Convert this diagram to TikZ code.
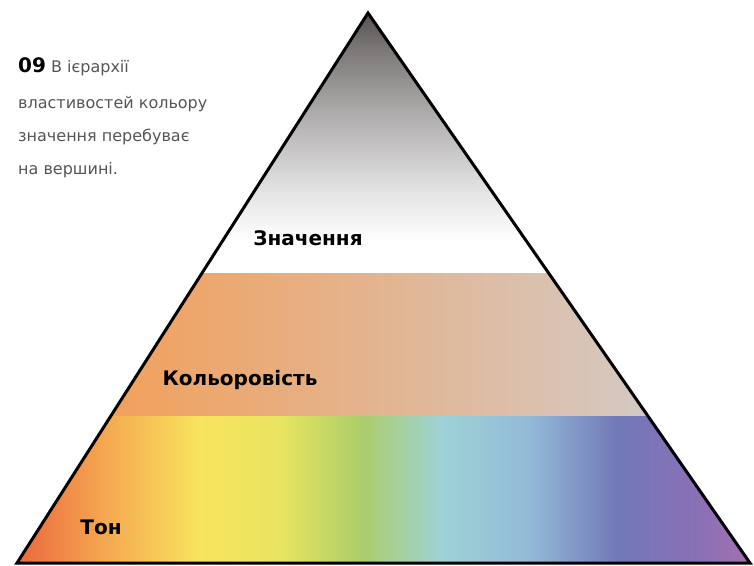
\documentclass[tikz,border=0pt]{standalone}
\usepackage{fontspec}
\setmainfont{DejaVu Sans}
\usetikzlibrary{positioning}

\definecolor{capgray}{HTML}{555555}
\definecolor{midleft}{HTML}{F2A05C}
\definecolor{midright}{HTML}{D3CAC6}
\definecolor{apexgray}{HTML}{484242}

% value band, top dark to white
\pgfdeclareverticalshading{valueshade}{100bp}{%
  color(0bp)=(white); color(31bp)=(white);
  color(41bp)=(apexgray!15); color(56bp)=(apexgray!45);
  color(68bp)=(apexgray!72); color(75bp)=(apexgray!92); color(100bp)=(apexgray!92)}

% hue band
\pgfdeclarehorizontalshading{rainbow}{100bp}{%
  color(0bp)=(rgb,255:red,233;green,104;blue,62);
  color(25bp)=(rgb,255:red,233;green,104;blue,62);
  color(31bp)=(rgb,255:red,245;green,168;blue,80);
  color(37.5bp)=(rgb,255:red,248;green,228;blue,94);
  color(43bp)=(rgb,255:red,232;green,228;blue,96);
  color(48.5bp)=(rgb,255:red,172;green,205;blue,106);
  color(54bp)=(rgb,255:red,158;green,210;blue,214);
  color(60bp)=(rgb,255:red,146;green,186;blue,215);
  color(66bp)=(rgb,255:red,114;green,120;blue,184);
  color(71.5bp)=(rgb,255:red,138;green,112;blue,181);
  color(75bp)=(rgb,255:red,165;green,112;blue,176);
  color(100bp)=(rgb,255:red,165;green,112;blue,176)}

\tikzset{
  band/.style={font=\fontsize{20}{22}\selectfont\bfseries},
  capline/.style={anchor=base west,inner sep=0pt,text=capgray,font=\fontsize{16}{18}\selectfont},
}

\begin{document}
\begin{tikzpicture}[x=1pt,y=-1pt]
    \useasboundingbox (0,0) rectangle (754,565);
    \coordinate (apex) at (368,13);
    \coordinate (bl) at (17,563);
    \coordinate (br) at (750,563);

    \begin{scope}
        \clip (apex) -- (bl) -- (br) -- cycle;
        \shade[shading=valueshade] (17,12) rectangle (750,273);
        \shade[left color=midleft,right color=midright] (110,273) rectangle (660,416);
        \shade[shading=rainbow] (17,416) rectangle (750,564);
    \end{scope}
    \draw[line width=3pt,line join=miter] (apex) -- (bl) -- (br) -- cycle;

    \node[band] (value) at (308,238) {Значення};
    \node[band] (chroma) at (240,380) {Кольоровість};
    \node[band] (hue) at (101,527) {Тон};

    \node[capline] (cap1) at (18,72) {{\color{black}\fontsize{20}{20}\selectfont\bfseries 09} В ієрархії};
    \node[capline] (cap2) at (18,108) {властивостей кольору};
    \node[capline] (cap3) at (18,141) {значення перебуває};
    \node[capline] (cap4) at (18,174) {на вершині.};
\end{tikzpicture}
\end{document}
